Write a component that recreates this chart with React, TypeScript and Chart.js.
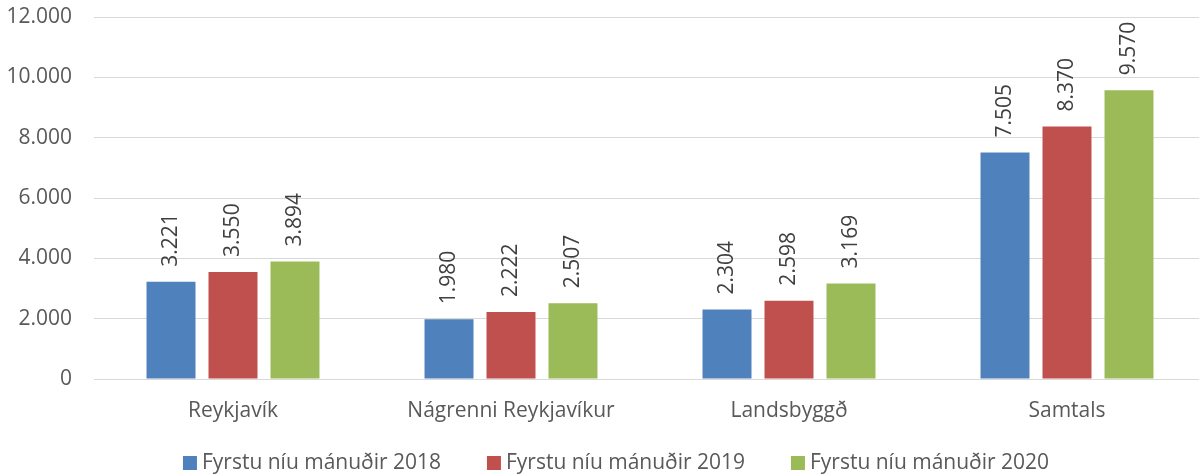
import React, { useEffect, useRef } from "react";
import { Chart, registerables } from "chart.js";

Chart.register(...registerables);

const categories = ["Reykjavík", "Nágrenni Reykjavíkur", "Landsbyggð", "Samtals"];
const seriesLabels = ["Fyrstu níu mánuðir 2018", "Fyrstu níu mánuðir 2019", "Fyrstu níu mánuðir 2020"];
const values2018 = [3221, 1980, 2304, 7505];
const values2019 = [3550, 2222, 2598, 8370];
const values2020 = [3894, 2507, 3169, 9570];
const seriesColors = ["#4F81BD", "#C0504D", "#9BBB59"];
const yTicks = [0, 2000, 4000, 6000, 8000, 10000, 12000];

const FONT = "'Open Sans', 'DejaVu Sans', sans-serif";

function fmt(v: number): string {
  return String(Math.round(v)).replace(/\B(?=(\d{3})+(?!\d))/g, ".");
}

const dataLabelPlugin = {
  id: "dataLabels",
  afterDatasetsDraw(chart: any) {
    const ctx = chart.ctx;
    ctx.save();
    ctx.font = `21px ${FONT}`;
    ctx.fillStyle = "#404040";
    ctx.textAlign = "left";
    ctx.textBaseline = "middle";
    chart.data.datasets.forEach((ds: any, di: number) => {
      const meta = chart.getDatasetMeta(di);
      meta.data.forEach((bar: any, i: number) => {
        const v = ds.data[i];
        ctx.save();
        ctx.translate(bar.x, bar.y - 15);
        ctx.rotate(-Math.PI / 2);
        ctx.fillText(fmt(v), 0, 0);
        ctx.restore();
      });
    });
    ctx.restore();
  },
};

const legendPlugin = {
  id: "customLegend",
  afterDraw(chart: any) {
    const ctx = chart.ctx;
    ctx.save();
    ctx.font = `21px ${FONT}`;
    ctx.textBaseline = "middle";
    ctx.textAlign = "left";
    const slot = 304;
    const box = 14;
    const gap = 5;
    const items = chart.data.datasets.map((ds: any) => ({
      text: ds.label,
      color: ds.backgroundColor,
      w: ctx.measureText(ds.label).width,
    }));
    const lastW = box + gap + items[items.length - 1].w;
    const total = slot * (items.length - 1) + lastW;
    const cx = 616;
    let x = cx - total / 2;
    const y = 463;
    items.forEach((it: any) => {
      ctx.fillStyle = it.color;
      ctx.fillRect(x, y - box / 2, box, box);
      ctx.fillStyle = "#595959";
      ctx.fillText(it.text, x + box + gap, y);
      x += slot;
    });
    ctx.restore();
  },
};

export default function App() {
  const ref = useRef<HTMLCanvasElement>(null);
  useEffect(() => {
    if (!ref.current) return;
    const chart = new Chart(ref.current, {
      type: "bar",
      data: {
        labels: categories,
        datasets: [values2018, values2019, values2020].map((d, i) => ({
          label: seriesLabels[i],
          data: d,
          backgroundColor: seriesColors[i],
          borderWidth: 0,
          categoryPercentage: 0.669,
          barPercentage: 0.79,
        })),
      },
      options: {
        animation: false,
        responsive: true,
        maintainAspectRatio: false,
        layout: { padding: { top: 17, bottom: 45, left: 0, right: 0 } },
        plugins: {
          legend: { display: false },
          tooltip: { enabled: false },
        },
        scales: {
          x: {
            grid: { display: false, drawTicks: false },
            border: { display: false },
            ticks: {
              color: "#595959",
              font: { family: FONT, size: 21 },
              padding: 19,
              maxRotation: 0,
            },
            afterFit: (s: any) => {
              s.height = 52;
            },
          },
          y: {
            min: 0,
            max: 12000,
            afterBuildTicks: (s: any) => {
              s.ticks = yTicks.map((v) => ({ value: v }));
            },
            grid: { color: "#D9D9D9", lineWidth: 1, drawTicks: false },
            border: { display: false },
            ticks: {
              color: "#595959",
              font: { family: FONT, size: 21 },
              padding: 22,
              callback: (v: any) => fmt(Number(v)),
            },
            afterFit: (s: any) => {
              s.width = 94;
              s.paddingTop = 0;
              s.paddingBottom = 0;
            },
          },
        },
      },
      plugins: [dataLabelPlugin, legendPlugin],
    });
    return () => chart.destroy();
  }, []);

  return (
    <div style={{ position: "fixed", left: 0, top: 0, width: 1199, height: 476, overflow: "hidden", background: "#fff" }}>
      <div style={{ position: "absolute", left: 0, top: 0, width: 1206, height: 476 }}>
        <canvas ref={ref} />
      </div>
    </div>
  );
}
